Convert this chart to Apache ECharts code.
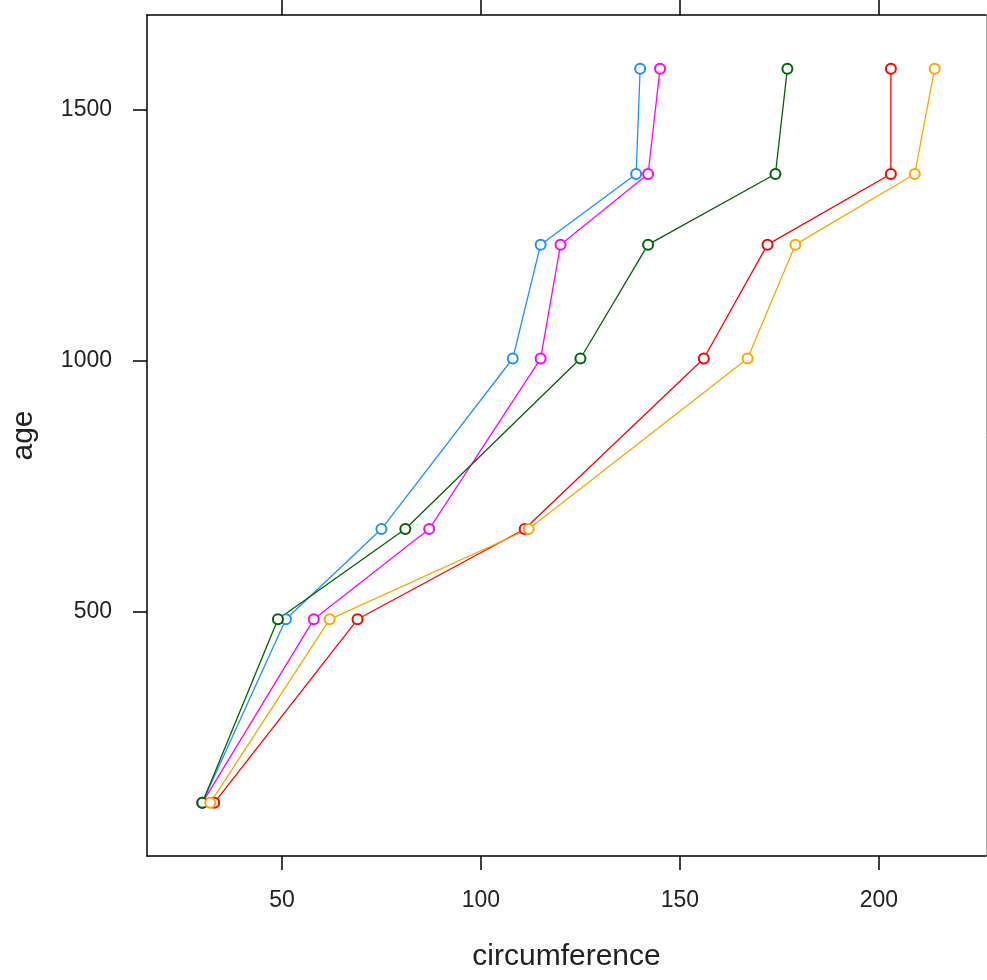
<!DOCTYPE html>
<html>
<head>
<meta charset="utf-8">
<script src="https://cdn.jsdelivr.net/npm/echarts@6/dist/echarts.min.js"></script>
<style>
html,body{margin:0;padding:0;background:#fff;}
#c{width:987px;height:980px;}
</style>
</head>
<body>
<div id="c"></div>
<script>
const ages = [118, 484, 664, 1004, 1231, 1372, 1582];
const tree3 = [30, 51, 75, 108, 115, 139, 140];
const tree1 = [30, 58, 87, 115, 120, 142, 145];
const tree5 = [30, 49, 81, 125, 142, 174, 177];
const tree2 = [33, 69, 111, 156, 172, 203, 203];
const tree4 = [32, 62, 112, 167, 179, 209, 214];
const seriesNames = ['3', '1', '5', '2', '4'];
const seriesValues = [tree3, tree1, tree5, tree2, tree4];
const colors = ['#1E90FF', '#FF00FF', '#006400', '#FF0000', '#FFA500'];
const xTicks = [50, 100, 150, 200];
const yTicks = [500, 1000, 1500];

const font = 'Liberation Sans, Arial, sans-serif';
const chart = echarts.init(document.getElementById('c'));

const series = seriesValues.map((vals, i) => ({
  name: seriesNames[i],
  type: 'line',
  data: vals.map((v, j) => [v, ages[j]]),
  symbol: 'emptyCircle',
  symbolSize: 10,
  showSymbol: true,
  lineStyle: { color: colors[i], width: 1.3 },
  itemStyle: { color: colors[i], borderColor: colors[i], borderWidth: 1.4 },
  emphasis: { disabled: true },
  animation: false
}));

chart.setOption({
  backgroundColor: '#fff',
  animation: false,
  grid: { left: 147, right: 1, top: 15, bottom: 124, containLabel: false },
  xAxis: [
    {
      type: 'value', position: 'bottom', min: 16.1, max: 226.9,
      name: 'circumference', nameLocation: 'middle', nameGap: 86,
      nameTextStyle: { fontFamily: font, fontSize: 30, color: '#222' },
      axisLine: { show: true, onZero: false, lineStyle: { color: '#000', width: 1.5 } },
      axisTick: { show: true, length: 14, inside: false, lineStyle: { color: '#000', width: 1.5 },
        customValues: xTicks },
      axisLabel: { show: true, margin: 33, fontFamily: font, fontSize: 23, color: '#222',
        customValues: xTicks, formatter: v => String(v) },
      splitLine: { show: false }
    },
    {
      type: 'value', position: 'top', min: 16.1, max: 226.9,
      axisLine: { show: true, onZero: false, lineStyle: { color: '#000', width: 1.5 } },
      axisTick: { show: true, length: 15, inside: false, lineStyle: { color: '#000', width: 1.5 },
        customValues: xTicks },
      axisLabel: { show: false },
      splitLine: { show: false }
    }
  ],
  yAxis: [
    {
      type: 'value', position: 'left', min: 12, max: 1689,
      name: 'age', nameLocation: 'middle', nameGap: 108, nameRotate: 90,
      nameTextStyle: { fontFamily: font, fontSize: 30, color: '#222' },
      axisLine: { show: true, onZero: false, lineStyle: { color: '#000', width: 1.5 } },
      axisTick: { show: true, length: 14, inside: false, lineStyle: { color: '#000', width: 1.5 },
        customValues: yTicks },
      axisLabel: { show: true, margin: 35, fontFamily: font, fontSize: 23, color: '#222',
        customValues: yTicks, formatter: v => String(v) },
      splitLine: { show: false }
    },
    {
      type: 'value', position: 'right', min: 12, max: 1689,
      axisLine: { show: true, onZero: false, lineStyle: { color: '#aaa', width: 1 } },
      axisTick: { show: false },
      axisLabel: { show: false },
      splitLine: { show: false }
    }
  ],
  series: series
});
</script>
</body>
</html>
